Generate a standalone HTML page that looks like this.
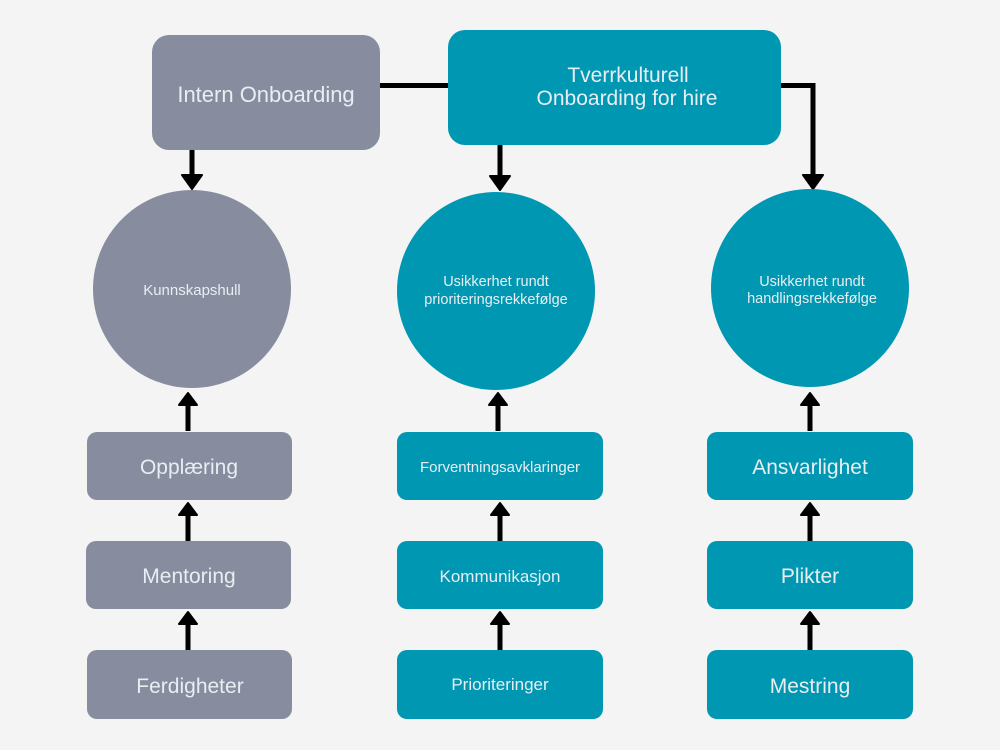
<!DOCTYPE html>
<html><head><meta charset="utf-8"><style>
html,body{margin:0;padding:0;background:#f4f4f4;}
svg{display:block}
.t{font-family:"Liberation Sans",sans-serif;fill:#e8eef2;text-anchor:middle;}
.c{font-family:"Liberation Sans",sans-serif;fill:#e8eef2;text-anchor:middle;}
</style></head><body>
<svg width="1000" height="750" viewBox="0 0 1000 750" xmlns="http://www.w3.org/2000/svg">
<rect width="1000" height="750" fill="#f4f4f4"/>
<defs>
<g id="up"><rect x="-2.5" y="8" width="5" height="30" fill="#000"/><polygon points="-9,12 0,0 9,12" fill="#000" stroke="#000" stroke-width="2" stroke-linejoin="round"/></g>
<g id="dn"><polygon points="-10,-14 10,-14 0,0" fill="#000" stroke="#000" stroke-width="2" stroke-linejoin="round"/></g>
</defs>
<rect x="378" y="83" width="72" height="5" fill="#000"/>
<rect x="779" y="83" width="36" height="5" fill="#000"/>
<rect x="810.5" y="83" width="5" height="95" fill="#000"/>
<use href="#dn" x="813" y="189"/>
<rect x="189.5" y="148" width="5" height="30" fill="#000"/>
<use href="#dn" x="192" y="189"/>
<rect x="497.5" y="143" width="5" height="36" fill="#000"/>
<use href="#dn" x="500" y="190"/>

<rect x="152" y="35" width="228" height="115" rx="17" fill="#878d9e"/>
<text class="t" x="266" y="102" font-size="22">Intern Onboarding</text>
<rect x="448" y="30" width="333" height="115" rx="17" fill="#0097b2"/>
<text class="t" x="628" y="82" font-size="21">Tverrkulturell</text>
<text class="t" x="627" y="105" font-size="21">Onboarding for hire</text>

<circle cx="192" cy="289" r="99" fill="#878d9e"/>
<text class="c" x="192" y="295" font-size="15">Kunnskapshull</text>
<circle cx="496" cy="291" r="99" fill="#0097b2"/>
<text class="c" x="496" y="286" font-size="14.5">Usikkerhet rundt</text>
<text class="c" x="496" y="304" font-size="14.5">prioriteringsrekkefølge</text>
<circle cx="810" cy="288" r="99" fill="#0097b2"/>
<text class="c" x="812" y="286" font-size="14.5">Usikkerhet rundt</text>
<text class="c" x="812" y="303" font-size="14.5">handlingsrekkefølge</text>

<use href="#up" x="188" y="393"/>
<use href="#up" x="498" y="393"/>
<use href="#up" x="810" y="393"/>
<use href="#up" x="188" y="503"/><use href="#up" x="188" y="612"/>
<use href="#up" x="500" y="503"/><use href="#up" x="500" y="612"/>
<use href="#up" x="810" y="503"/><use href="#up" x="810" y="612"/>

<rect x="87" y="432" width="205" height="68" rx="10" fill="#878d9e"/>
<text class="t" x="189" y="474" font-size="21">Opplæring</text>
<rect x="86" y="541" width="205" height="68" rx="10" fill="#878d9e"/>
<text class="t" x="189" y="583" font-size="21">Mentoring</text>
<rect x="87" y="650" width="205" height="69" rx="10" fill="#878d9e"/>
<text class="t" x="190" y="693" font-size="21">Ferdigheter</text>

<rect x="397" y="432" width="206" height="68" rx="10" fill="#0097b2"/>
<text class="t" x="500" y="472" font-size="15">Forventningsavklaringer</text>
<rect x="397" y="541" width="206" height="68" rx="10" fill="#0097b2"/>
<text class="t" x="500" y="582" font-size="17">Kommunikasjon</text>
<rect x="397" y="650" width="206" height="69" rx="10" fill="#0097b2"/>
<text class="t" x="500" y="690" font-size="17">Prioriteringer</text>

<rect x="707" y="432" width="206" height="68" rx="10" fill="#0097b2"/>
<text class="t" x="810" y="474" font-size="21">Ansvarlighet</text>
<rect x="707" y="541" width="206" height="68" rx="10" fill="#0097b2"/>
<text class="t" x="810" y="583" font-size="21">Plikter</text>
<rect x="707" y="650" width="206" height="69" rx="10" fill="#0097b2"/>
<text class="t" x="810" y="693" font-size="21">Mestring</text>
</svg>
</body></html>
